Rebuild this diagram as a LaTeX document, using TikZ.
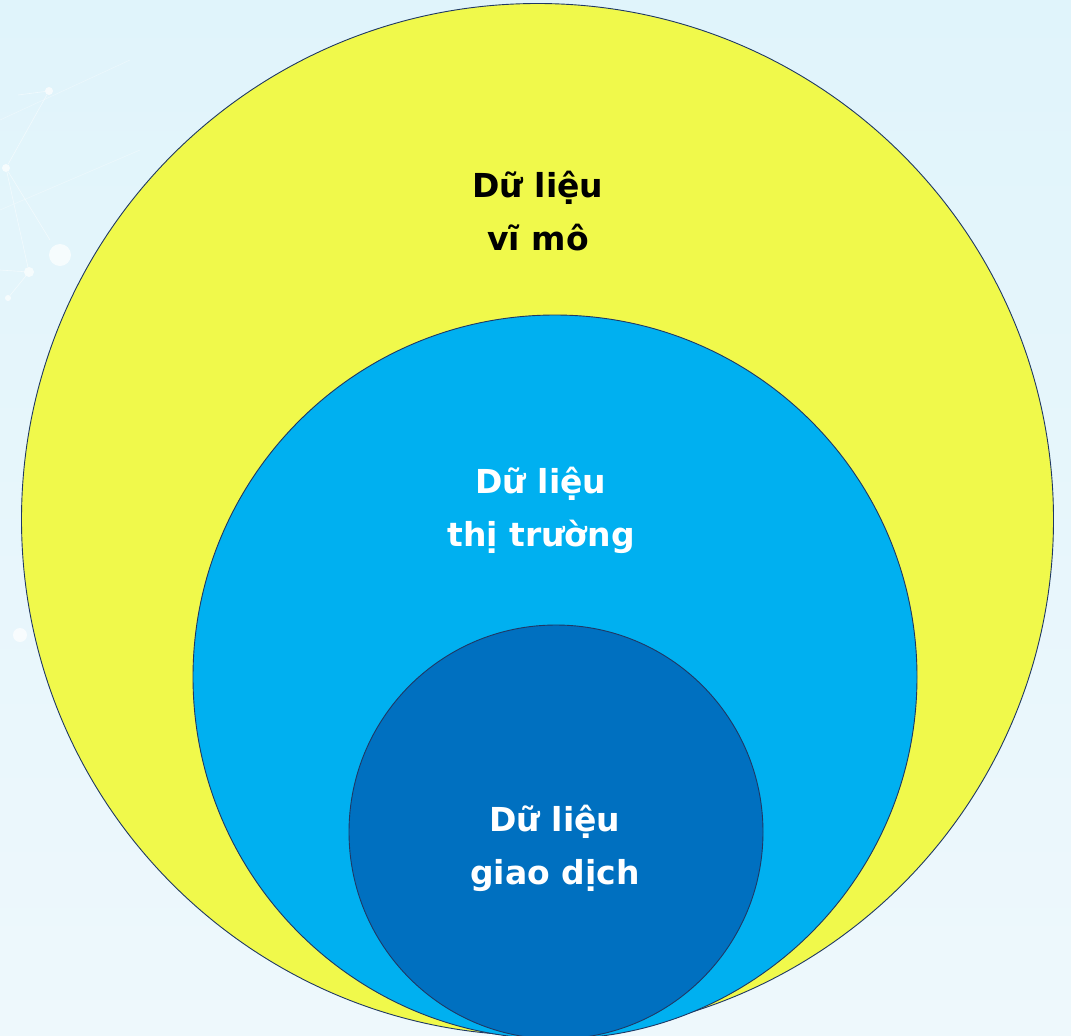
\documentclass[tikz,border=0pt]{standalone}
\usepackage{fontspec}
\setmainfont{DejaVu Sans}[BoldFont={DejaVu Sans Bold}]
\definecolor{bgtop}{HTML}{E0F4FB}
\definecolor{bgmid}{HTML}{C2E7F6}
\definecolor{bgbot}{HTML}{EEF8FC}
\definecolor{ylw}{HTML}{F0F94B}
\definecolor{midblue}{HTML}{00B0F0}
\definecolor{deepblue}{HTML}{0070C0}
\definecolor{rim}{HTML}{1F3864}
\tikzset{
  ring/.style={circle, draw=rim, line width=0.9pt, inner sep=0pt},
  lbl/.style={font=\fontsize{33}{53}\selectfont\bfseries, align=center, inner sep=0pt},
  deco/.style={white, opacity=0.55, line width=0.6pt},
  dot/.style={circle, fill=white, opacity=0.7, inner sep=0pt}
}
\begin{document}
\begin{tikzpicture}[x=1pt,y=-1pt]
\useasboundingbox (0,0) rectangle (1071,1036);
\shade[top color=bgtop, middle color=bgmid, bottom color=bgbot] (0,0) rectangle (1071,1036);
% faint network decoration
\node[dot, minimum size=8pt] (d1) at (49,91) {};
\node[dot, minimum size=8pt] (d2) at (6,168) {};
\node[dot, minimum size=22pt] (d3) at (60,255) {};
\node[dot, minimum size=10pt] (d4) at (29,272) {};
\node[dot, minimum size=6pt] (d5) at (8,298) {};
\node[dot, minimum size=14pt] (d6) at (20,635) {};
\draw[deco] (d1) -- (18,95) (d1) -- (d2) (d2) -- (d4) (d2) -- (50,240) (d4) -- (d5) (d4) -- (0,270);
\draw[deco, opacity=0.35] (0,120) -- (130,60) (0,210) -- (140,150);
% circles
\node[ring, fill=ylw, minimum size=1032pt] (outer) at (537.5,519.5) {};
\node[ring, fill=midblue, minimum size=724pt] (middle) at (555,677) {};
\node[ring, fill=deepblue, minimum size=414pt] (inner) at (556,832) {};
% labels
\node[lbl, text=black] (t1) at (538,211) {Dữ liệu\\vĩ mô};
\node[lbl, text=white] (t2) at (541,510) {Dữ liệu\\thị trường};
\node[lbl, text=white] (t3) at (555,848) {Dữ liệu\\giao dịch};
\end{tikzpicture}
\end{document}
